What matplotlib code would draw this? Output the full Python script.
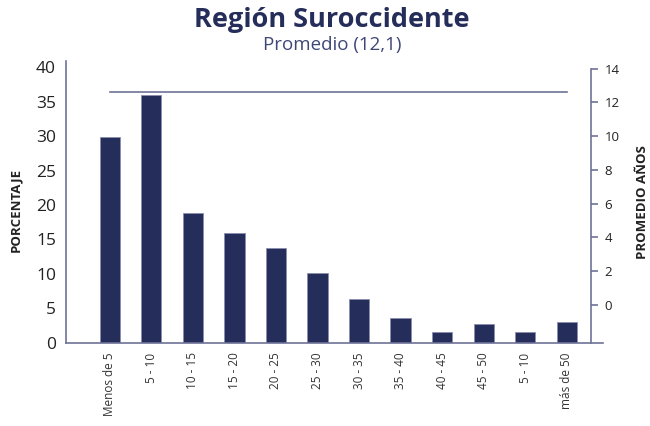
import numpy as np
import matplotlib.pyplot as plt

categorias = ["Menos de 5", "5 - 10", "10 - 15", "15 - 20", "20 - 25", "25 - 30",
              "30 - 35", "35 - 40", "40 - 45", "45 - 50", "5 - 10", "más de 50"]
porcentaje = [29.9, 36.0, 18.9, 16.0, 13.8, 10.1, 6.4, 3.6, 1.6, 2.75, 1.6, 3.0]
promedio = [12.63] * len(categorias)

azul = "#252d5a"
gris = "#6e7397"

plt.rcParams["font.family"] = ["Open Sans", "DejaVu Sans"]

fig = plt.figure(figsize=(6.5, 4.26), dpi=100)
ax = fig.add_axes([0.101, 0.1955, 0.8267, 0.6613])
x = np.arange(len(categorias))
ax.bar(x, porcentaje, width=0.49, color=azul, edgecolor="#8a8fae", linewidth=0.6)
ax.set_xlim(-1.06, 11.87)
ax.set_ylim(0, 40.9)
ax.set_yticks(range(0, 41, 5))
ax.set_xticks(x)
ax.set_xticklabels(categorias, rotation=90, fontsize=8.5, color="#333333")
ax.tick_params(axis="x", length=0, pad=7)
ax.tick_params(axis="y", length=0, labelsize=12.5, colors="#222222", pad=7)
for s in ["top", "right"]:
    ax.spines[s].set_visible(False)
for s in ["left", "bottom"]:
    ax.spines[s].set_color(gris)
    ax.spines[s].set_linewidth(1.2)
ax.set_ylabel("PORCENTAJE", fontsize=9.5, fontweight="bold", color="#222222", labelpad=10)
ax.yaxis.label.set_y(0.47)

ax2 = ax.twinx()
ax2.plot(x, promedio, color=gris, linewidth=1.2)
ax2.set_ylim(-2.25, 14.45)
ax2.set_yticks(range(0, 15, 2))
ax2.spines["right"].set_position(("data", 11.57))
ax2.spines["right"].set_bounds(-2.25, 14.0)
ax2.spines["right"].set_color(gris)
ax2.spines["right"].set_linewidth(1.2)
for s in ["top", "left", "bottom"]:
    ax2.spines[s].set_visible(False)
ax2.tick_params(axis="y", length=5, width=1.2, color=gris, labelsize=9.5,
                labelcolor="#222222", pad=5)
ax2.set_ylabel("PROMEDIO AÑOS", fontsize=9.5, fontweight="bold", color="#222222", labelpad=12)

fig.text(0.511, 0.953, "Región Suroccidente", ha="center", va="center",
         fontsize=19.5, fontweight="bold", color=azul)
fig.text(0.511, 0.894, "Promedio (12,1)", ha="center", va="center",
         fontsize=13.5, color="#3f4775")

fig.savefig("out.png", dpi=100)
